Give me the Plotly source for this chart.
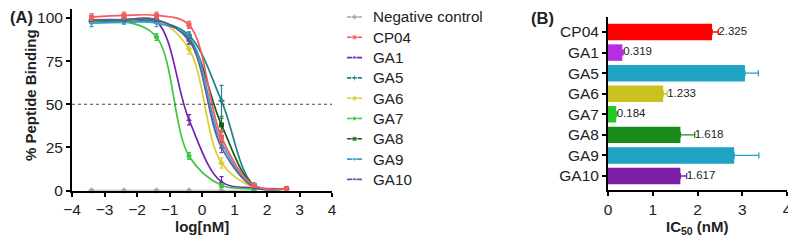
import plotly.graph_objects as go

# ---------------- data ----------------
log_conc = [-3.4, -2.4, -1.4, -0.4, 0.6, 1.6, 2.6]

series_names = ["Negative control", "CP04", "GA1", "GA5", "GA6", "GA7", "GA8", "GA9", "GA10"]
neg_ctrl = [0, 0, 0, 0, 0, 0]
cp04 = [100.5, 101.5, 101.5, 96, 31, 3, 1]
ga1 = [99, 99, 98, 41, 5, 1.5, 1]
ga5 = [98, 98, 98, 90, 52, 3, 1]
ga6 = [99, 99, 99, 82, 16, 2, 1]
ga7 = [98, 98, 89, 20, 3, 1, 0.5]
ga8 = [99, 99, 99, 88, 38, 3, 1]
ga9 = [97, 97.5, 97, 89, 28, 2, 1]
ga10 = [99, 99, 99, 87, 25, 2, 1]

neg_err = [0.5, 0.5, 0.5, 0.5, 0.5, 0.5]
cp04_err = [2, 2, 2, 2, 4, 1, 1]
ga1_err = [1, 1, 1, 3, 3, 1, 0.5]
ga5_err = [1, 1, 1, 2, 9, 1, 0.5]
ga6_err = [1, 1, 1, 3, 3, 1, 0.5]
ga7_err = [1, 1, 2, 2, 1, 1, 0.5]
ga8_err = [1, 1, 1, 3, 4, 1, 0.5]
ga9_err = [2, 1, 2, 2, 3, 1, 0.5]
ga10_err = [1, 1, 1, 2, 3, 1, 0.5]

half_line = 50

bar_categories = ["CP04", "GA1", "GA5", "GA6", "GA7", "GA8", "GA9", "GA10"]
ic50_values = [2.325, 0.319, 3.06, 1.233, 0.184, 1.618, 2.82, 1.617]
ic50_err = [0.14, 0.02, 0.30, 0.09, 0.01, 0.32, 0.55, 0.14]
ic50_labels = ["2.325", "0.319", "", "1.233", "0.184", "1.618", "", "1.617"]

# ---------------- styles ----------------
line_colors = ["#A6A6A6", "#F25C5C", "#7422B4", "#22818A", "#D6CF2E", "#3CC83C", "#175F17", "#3A9CC8", "#5E5CA0"]
symbols = ["diamond", "square", "triangle-up", "cross", "diamond", "circle", "square", "triangle-down", "triangle-up"]
bar_colors = ["#FF0000", "#B52EE6", "#1FA3C4", "#C9C21E", "#22C922", "#1A8A1A", "#1FA3C4", "#7A1FA6"]

FONT = "Arial, Liberation Sans, sans-serif"
TXT = "#222222"

# page body adds an 8 px offset, so the figure is sized to the visible area
W, H = 788, 237


def px(x):
    return x / W


def py(y):
    return (H - y) / H


fig = go.Figure()

curves = [neg_ctrl, cp04, ga1, ga5, ga6, ga7, ga8, ga9, ga10]
errs = [neg_err, cp04_err, ga1_err, ga5_err, ga6_err, ga7_err, ga8_err, ga9_err, ga10_err]

# draw order: negative control first, CP04 last (on top)
order = [0, 2, 3, 4, 5, 6, 7, 8, 1]
for i in order:
    ys, es, col, sym = curves[i], errs[i], line_colors[i], symbols[i]
    fig.add_trace(go.Scatter(
        x=log_conc[:len(ys)], y=ys, name=series_names[i], mode="lines+markers",
        line=dict(color=col, width=1.7, shape="spline", smoothing=1.0),
        marker=dict(color=col, size=5, symbol=sym),
        error_y=dict(type="data", array=es, color=col, thickness=1.2, width=2),
        cliponaxis=False, xaxis="x", yaxis="y", showlegend=False,
    ))

fig.add_shape(type="line", xref="x", yref="y", x0=-4, x1=4, y0=half_line, y1=half_line,
              line=dict(color="#444444", width=1.2, dash="dot"))

# legend (drawn on a hidden axis pair so the row spacing matches)
legend_rows = list(range(len(series_names)))
annotations = []
for row, name, col, sym in zip(legend_rows, series_names, line_colors, symbols):
    fig.add_trace(go.Scatter(
        x=[0, 0.5, 1], y=[row, row, row], mode="lines+markers",
        line=dict(color=col, width=1.6), marker=dict(color=col, size=[0, 5, 0], symbol=sym),
        xaxis="x3", yaxis="y3", showlegend=False, cliponaxis=False, hoverinfo="skip",
    ))
    annotations.append(dict(text=name, x=1, y=row, xref="x3", yref="y3", xanchor="left",
                            yanchor="middle", xshift=9, showarrow=False,
                            font=dict(family=FONT, size=15.2, color=TXT)))

# bar chart: one trace per bar so each error bar takes the bar colour
for cat, val, err, col in zip(bar_categories, ic50_values, ic50_err, bar_colors):
    fig.add_trace(go.Bar(
        x=[val], y=[cat], orientation="h", width=0.8,
        marker=dict(color=col, line=dict(width=0)),
        error_x=dict(type="data", array=[err], arrayminus=[0], symmetric=False,
                     color=col, thickness=1.3, width=3),
        xaxis="x2", yaxis="y2", showlegend=False,
    ))

lab_x = [v + e for v, e, t in zip(ic50_values, ic50_err, ic50_labels) if t]
lab_y = [c for c, t in zip(bar_categories, ic50_labels) if t]
lab_t = [t for t in ic50_labels if t]
fig.add_trace(go.Scatter(
    x=lab_x, y=lab_y, mode="text", text=lab_t, textposition="middle right",
    textfont=dict(family=FONT, size=11.5, color=TXT),
    xaxis="x2", yaxis="y2", showlegend=False, cliponaxis=False,
))

axis_common = dict(showline=True, linecolor="black", linewidth=2, ticks="outside",
                   ticklen=4, tickwidth=2, tickcolor="black", showgrid=False, zeroline=False,
                   automargin=False, tickfont=dict(family=FONT, size=15.5, color=TXT))

title_font = dict(family=FONT, size=15, color=TXT)
annotations += [
    dict(text="<b>(A)</b>", x=px(0), y=py(9), xref="paper", yref="paper",
         xanchor="left", yanchor="middle", showarrow=False, font=dict(family=FONT, size=16.5, color=TXT)),
    dict(text="<b>(B)</b>", x=px(521), y=py(10), xref="paper", yref="paper",
         xanchor="left", yanchor="middle", showarrow=False, font=dict(family=FONT, size=16.5, color=TXT)),
    dict(text="<b>% Peptide Binding</b>", x=px(23), y=py(87), xref="paper", yref="paper",
         xanchor="center", yanchor="middle", textangle=-90, showarrow=False, font=title_font),
    dict(text="<b>log[nM]</b>", x=px(194), y=py(218), xref="paper", yref="paper",
         xanchor="center", yanchor="middle", showarrow=False, font=title_font),
    dict(text="<b>IC<sub>50</sub> (nM)</b>", x=px(689), y=py(219), xref="paper", yref="paper",
         xanchor="center", yanchor="middle", showarrow=False, font=title_font),
]

fig.update_layout(
    width=W, height=H, margin=dict(l=0, r=0, t=0, b=0),
    paper_bgcolor="white", plot_bgcolor="white",
    font=dict(family=FONT, color=TXT),
    barmode="overlay", showlegend=False,
    xaxis=dict(domain=[px(64), px(324)], range=[-4, 4], dtick=1, anchor="y", **axis_common),
    yaxis=dict(domain=[py(182.5), py(1.4)], range=[0, 105],
               tickvals=[0, 25, 50, 75, 100], anchor="x", **axis_common),
    xaxis2=dict(domain=[px(600), px(779)], range=[0, 4], dtick=1, anchor="y2", **axis_common),
    yaxis2=dict(domain=[py(182), py(9)], range=[7.68, -0.73], anchor="x2", **axis_common),
    xaxis3=dict(domain=[px(339), px(354)], range=[0, 1], visible=False, anchor="y3"),
    yaxis3=dict(domain=[py(9 + 8.3 * 20.3), py(9 - 0.3 * 20.3)], range=[8.3, -0.3],
                visible=False, anchor="x3"),
    annotations=annotations,
)

fig.write_html("out.html")
